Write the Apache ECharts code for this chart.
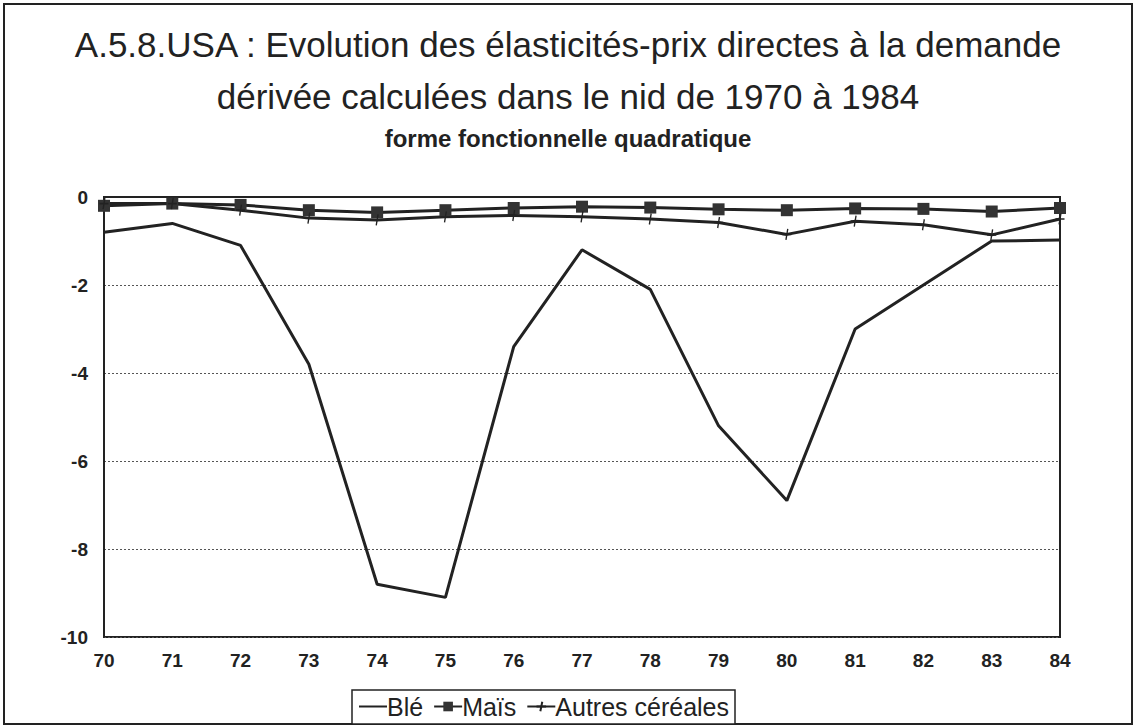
<!DOCTYPE html>
<html>
<head>
<meta charset="utf-8">
<script src="https://cdn.jsdelivr.net/npm/echarts@6/dist/echarts.min.js"></script>
<style>
    html, body { margin: 0; padding: 0; background: #fff; }
    #chart { width: 1136px; height: 728px; }
</style>
</head>
<body>
<div id="chart"></div>
<script>
    // years 1970..1984 (shown as two digits)
    const years = ['70', '71', '72', '73', '74', '75', '76', '77', '78', '79', '80', '81', '82', '83', '84'];
    const ble = [-0.8, -0.6, -1.1, -3.8, -8.8, -9.1, -3.4, -1.2, -2.1, -5.2, -6.9, -3.0, -2.0, -1.0, -0.98];
    const mais = [-0.2, -0.15, -0.18, -0.3, -0.35, -0.3, -0.25, -0.22, -0.24, -0.28, -0.3, -0.26, -0.27, -0.33, -0.25];
    const autres = [-0.15, -0.15, -0.3, -0.48, -0.52, -0.45, -0.42, -0.45, -0.5, -0.58, -0.85, -0.55, -0.63, -0.86, -0.5];

    const ink = '#222';
    const font = 'Liberation Sans, Arial, sans-serif';

    const chart = echarts.init(document.getElementById('chart'), null, {renderer: 'svg'});

    chart.setOption({
        animation: false,
        backgroundColor: '#fff',
        title: [
            {
                text: 'A.5.8.USA : Evolution des élasticités-prix directes à la demande\ndérivée calculées dans le nid de 1970 à 1984',
                left: 'center',
                top: 13,
                textStyle: {fontFamily: font, fontSize: 35, fontWeight: 'normal', color: ink, lineHeight: 52, align: 'center'}
            },
            {
                text: 'forme fonctionnelle quadratique',
                left: 'center',
                top: 121,
                textStyle: {fontFamily: font, fontSize: 24, fontWeight: 'bold', color: ink}
            }
        ],
        graphic: [
            {
                type: 'rect',
                shape: {x: 4, y: 4, width: 1128, height: 720},
                style: {fill: 'none', stroke: ink, lineWidth: 2},
                silent: true
            }
        ],
        legend: {
            left: 352,
            top: 690,
            padding: [4, 6, 5, 6],
            itemGap: 10,
            itemWidth: 28,
            itemHeight: 12,
            borderColor: ink,
            borderWidth: 1.5,
            backgroundColor: '#fff',
            textStyle: {fontFamily: font, fontSize: 25, color: ink, padding: [0, 0, 0, -5]},
            data: [
                {name: 'Blé', itemStyle: {opacity: 0}},
                {name: 'Maïs'},
                {name: 'Autres céréales'}
            ]
        },
        grid: {
            left: 104,
            top: 197,
            width: 956,
            height: 440,
            show: true,
            borderColor: ink,
            borderWidth: 2
        },
        xAxis: {
            type: 'category',
            boundaryGap: false,
            data: years,
            axisLine: {lineStyle: {color: ink, width: 2}},
            axisTick: {show: false},
            axisLabel: {fontFamily: font, fontSize: 19, fontWeight: 'bold', color: ink, margin: 14}
        },
        yAxis: {
            type: 'value',
            min: -10,
            max: 0,
            interval: 2,
            axisLine: {show: true, lineStyle: {color: ink, width: 2}},
            axisTick: {show: false},
            axisLabel: {fontFamily: font, fontSize: 19, fontWeight: 'bold', color: ink, margin: 16},
            splitLine: {show: true, lineStyle: {color: '#555', width: 1, type: [2, 2]}}
        },
        series: [
            {
                name: 'Blé',
                type: 'line',
                data: ble,
                symbol: 'none',
                lineStyle: {color: ink, width: 3},
                itemStyle: {color: ink}
            },
            {
                name: 'Maïs',
                type: 'line',
                data: mais,
                symbol: 'rect',
                symbolSize: 12,
                lineStyle: {color: ink, width: 3},
                itemStyle: {color: '#333'}
            },
            {
                name: 'Autres céréales',
                type: 'line',
                data: autres,
                symbol: 'path://M6,0L4,12M0,6L10,6',
                symbolSize: [9, 11],
                lineStyle: {color: ink, width: 3},
                itemStyle: {color: 'none', borderColor: ink, borderWidth: 1.5}
            }
        ]
    });
</script>
</body>
</html>
